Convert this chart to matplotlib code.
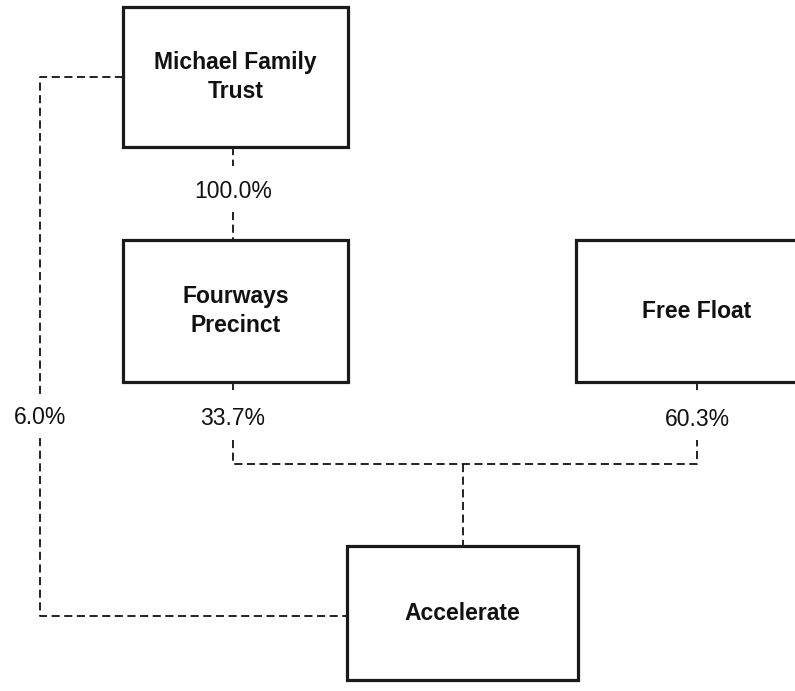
import matplotlib.pyplot as plt
from matplotlib.patches import Rectangle

# entities and ownership stakes
entities = ["Michael Family\nTrust", "Fourways\nPrecinct", "Free Float", "Accelerate"]
stakes = ["100.0%", "6.0%", "33.7%", "60.3%"]

# layout in pixel coordinates (x0, y0, x1, y1), y grows downward
boxes = {
    "Michael Family\nTrust": (123, 7, 348, 147),
    "Fourways\nPrecinct": (123, 240, 348, 382),
    "Free Float": (576, 240, 800, 382),
    "Accelerate": (347, 546, 578, 680),
}

plt.rcParams['font.family'] = ['Liberation Sans', 'DejaVu Sans']

fig = plt.figure(figsize=(7.95, 6.91), dpi=100, facecolor='white')
ax = fig.add_axes([0, 0, 1, 1])
ax.set_xlim(0, 795)
ax.set_ylim(691, 0)
ax.set_axis_off()

for name in entities:
    x0, y0, x1, y1 = boxes[name]
    ax.add_patch(Rectangle((x0, y0), x1 - x0, y1 - y0, fill=True, facecolor='white',
                           edgecolor='#1a1a1a', linewidth=2.3, zorder=3))
    cx = (x0 + x1) / 2 if name != "Free Float" else 697
    ax.text(cx, (y0 + y1) / 2, name,
            ha='center', va='center', fontsize=16.5, fontweight='bold',
            color='#111111', linespacing=1.3, zorder=4)

dash = dict(color='#111111', linewidth=1.3, linestyle=(0, (4.5, 2.5)), zorder=2)

# Michael Family Trust -> Fourways
ax.plot([233, 233], [147, 166], **dash)
ax.plot([233, 233], [212, 240], **dash)
ax.text(233, 191, stakes[0], ha='center', va='center', fontsize=16.5, color='#111111')

# Michael Family Trust -> Accelerate (left loop)
ax.plot([123, 40, 40], [77, 77, 396], **dash)
ax.plot([40, 40, 347], [438, 616, 616], **dash)
ax.text(40, 417, stakes[1], ha='center', va='center', fontsize=16.5, color='#111111')

# Fourways and Free Float -> Accelerate
ax.plot([233, 233], [382, 390], **dash)
ax.text(233, 418, stakes[2], ha='center', va='center', fontsize=16.5, color='#111111')
ax.plot([697, 697], [382, 392], **dash)
ax.text(697, 419, stakes[3], ha='center', va='center', fontsize=16.5, color='#111111')
ax.plot([233, 233, 697, 697], [440, 464, 464, 440], **dash)
ax.plot([463, 463], [464, 546], **dash)

fig.savefig('out.png', dpi=100, facecolor='white')
